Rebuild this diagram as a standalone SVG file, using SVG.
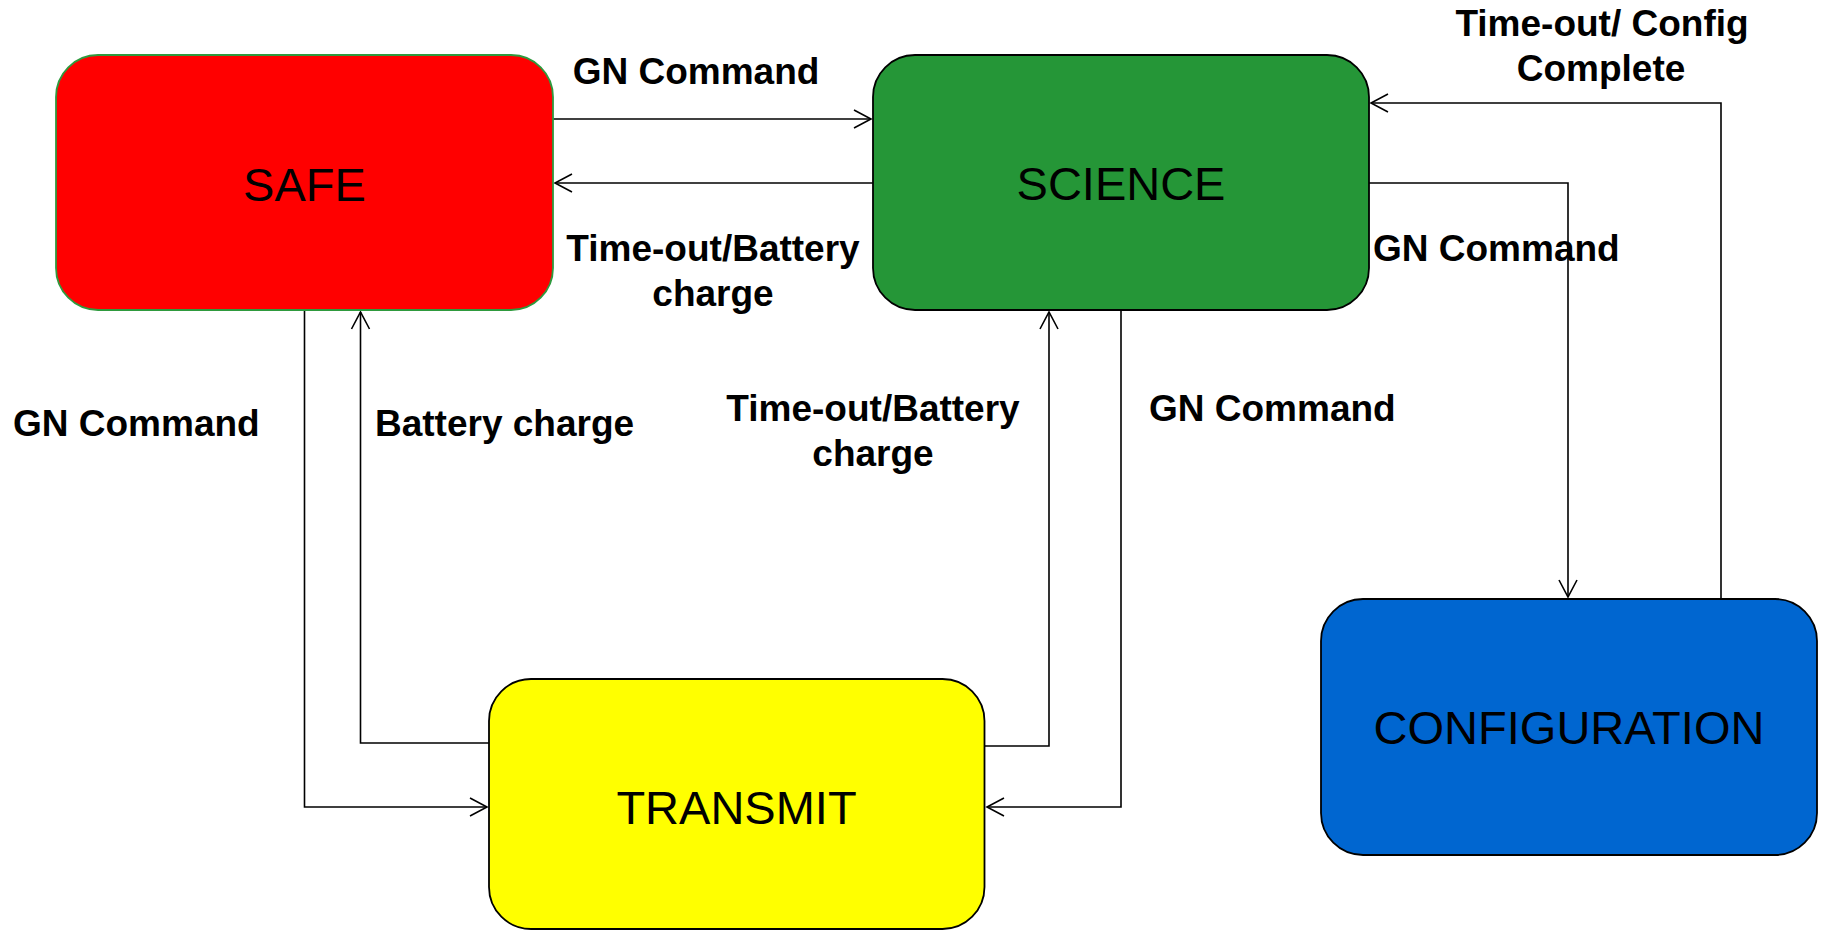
<svg xmlns="http://www.w3.org/2000/svg" width="1823" height="931" viewBox="0 0 1823 931">
<style>
.node{stroke:#000;stroke-width:1.8}
.ntext{font-family:"Liberation Sans",Arial,sans-serif;font-size:47px;fill:#000;text-anchor:middle}
.lbl{font-family:"Liberation Sans",Arial,sans-serif;font-size:37px;font-weight:bold;fill:#000}
.mid{text-anchor:middle}
.conn{fill:none;stroke:#000;stroke-width:1.6;marker-end:url(#arr)}
</style>
<defs>
<marker id="arr" markerUnits="userSpaceOnUse" markerWidth="22" markerHeight="22" viewBox="0 0 22 22" refX="19" refY="11" orient="auto">
<path d="M2,2 L19,11 L2,20" fill="none" stroke="#000" stroke-width="1.6"/>
</marker>
</defs>
<rect width="1823" height="931" fill="#fff"/>
<g id="connectors">
<path class="conn" d="M553,119 H871"/>
<path class="conn" d="M873,183 H555"/>
<path class="conn" d="M1369,183 H1568 V597"/>
<path class="conn" d="M1721,599 V103 H1371"/>
<path class="conn" d="M304.5,310 V807 H487"/>
<path class="conn" d="M489,743 H360.5 V312"/>
<path class="conn" d="M984.5,746 H1049 V312"/>
<path class="conn" d="M1121,310 V807 H987"/>
</g>
<g id="labels">
<text class="lbl mid" x="696" y="84">GN Command</text>
<text class="lbl mid" x="713" y="261">Time-out/Battery</text>
<text class="lbl mid" x="713" y="306">charge</text>
<text class="lbl mid" x="1602" y="36">Time-out/ Config</text>
<text class="lbl mid" x="1601" y="81">Complete</text>
<text class="lbl" x="1373" y="261">GN Command</text>
<text class="lbl" x="13" y="436">GN Command</text>
<text class="lbl" x="375" y="436">Battery charge</text>
<text class="lbl mid" x="873" y="421">Time-out/Battery</text>
<text class="lbl mid" x="873" y="466">charge</text>
<text class="lbl" x="1149" y="421">GN Command</text>
</g>
<g id="safe">
<rect x="56" y="55" width="497" height="255" rx="42" ry="42" fill="#FF0000" stroke="#2E9A3E" stroke-width="1.8"/>
<text class="ntext" x="304.5" y="201">SAFE</text>
</g>
<g id="science">
<rect class="node" x="873" y="55" width="496" height="255" rx="42" ry="42" fill="#259637"/>
<text class="ntext" x="1121" y="200">SCIENCE</text>
</g>
<g id="transmit">
<rect class="node" x="489" y="679" width="495.5" height="250" rx="42" ry="42" fill="#FFFF00"/>
<text class="ntext" x="736.5" y="824">TRANSMIT</text>
</g>
<g id="configuration">
<rect class="node" x="1321" y="599" width="496" height="256" rx="42" ry="42" fill="#0066D0"/>
<text class="ntext" x="1569" y="744">CONFIGURATION</text>
</g>
</svg>
